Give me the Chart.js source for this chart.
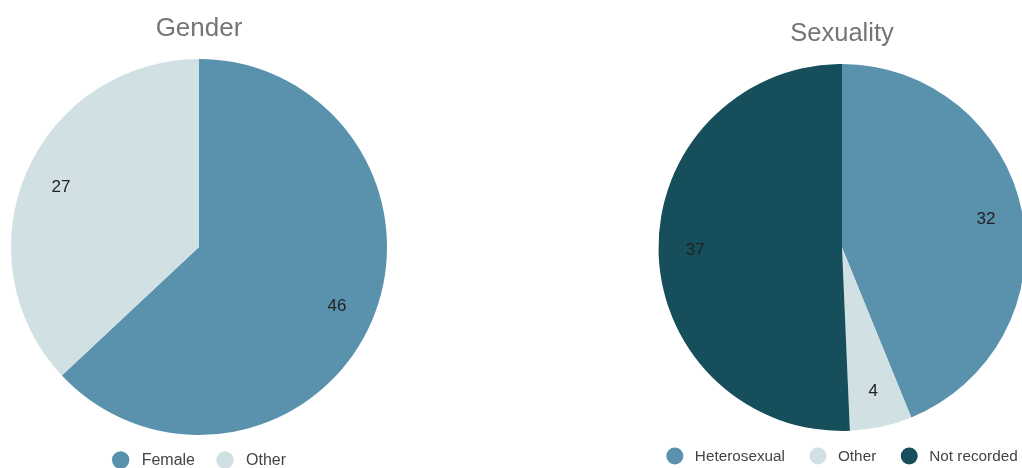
<!DOCTYPE html>
<html>
<head>
<meta charset="utf-8">
<script src="https://cdn.jsdelivr.net/npm/chart.js@4/dist/chart.umd.min.js"></script>
<style>
html,body{margin:0;padding:0;background:#fff;overflow:hidden;width:1022px;height:468px;}
canvas{position:absolute;}
#c1{left:-1px;top:0;}
#c2{left:642px;top:0;}
</style>
</head>
<body>
<canvas id="c1" width="400" height="468"></canvas>
<canvas id="c2" width="400" height="468"></canvas>
<script>
const genderTitle = 'Gender';
const genderLabels = ['Female', 'Other'];
const genderValues = [46, 27];
const genderColors = ['#5a92ae', '#d1e0e3'];

const sexualityTitle = 'Sexuality';
const sexualityLabels = ['Heterosexual', 'Other', 'Not recorded'];
const sexualityValues = [32, 4, 37];
const sexualityColors = ['#5a92ae', '#d1e0e3', '#174e5b'];

const FONT = "'Liberation Sans', Arial, sans-serif";

const sliceLabels = {
  id: 'sliceLabels',
  afterDatasetsDraw(chart) {
    const ctx = chart.ctx;
    const meta = chart.getDatasetMeta(0);
    const data = chart.data.datasets[0].data;
    ctx.save();
    ctx.font = "17px " + FONT;
    ctx.fillStyle = '#222';
    ctx.textAlign = 'center';
    ctx.textBaseline = 'middle';
    meta.data.forEach((arc, i) => {
      const p = arc.getProps(['x', 'y', 'startAngle', 'endAngle', 'outerRadius'], true);
      const mid = (p.startAngle + p.endAngle) / 2;
      const r = p.outerRadius * 0.8;
      ctx.fillText(String(data[i]), p.x + Math.cos(mid) * r, p.y + Math.sin(mid) * r);
    });
    ctx.restore();
  }
};

// legend drawn from the chart's own labels and dataset colours
const circleLegend = {
  id: 'circleLegend',
  afterDraw(chart, args, opts) {
    const ctx = chart.ctx;
    const labels = chart.data.labels;
    const colors = chart.data.datasets[0].backgroundColor;
    ctx.save();
    ctx.font = opts.fontSize + "px " + FONT;
    const widths = labels.map(t => ctx.measureText(t).width);
    let total = opts.radius;
    widths.forEach((w, i) => { total += opts.textGap + w + (i < widths.length - 1 ? opts.itemGap : 0); });
    const cx = (chart.chartArea.left + chart.chartArea.right) / 2;
    let x = cx - total / 2 + opts.radius;
    ctx.textBaseline = 'middle';
    ctx.textAlign = 'left';
    labels.forEach((t, i) => {
      ctx.fillStyle = colors[i];
      ctx.beginPath();
      ctx.arc(x, opts.y, opts.radius, 0, Math.PI * 2);
      ctx.fill();
      ctx.fillStyle = '#444';
      ctx.fillText(t, x + opts.textGap, opts.y + 0.5);
      x += opts.textGap + widths[i] + opts.itemGap;
    });
    ctx.restore();
  }
};

function makePie(id, title, labels, values, colors, cfg) {
  return new Chart(document.getElementById(id), {
    type: 'pie',
    data: {
      labels: labels,
      datasets: [{ data: values, backgroundColor: colors, borderWidth: 0, hoverOffset: 0 }]
    },
    options: {
      responsive: false,
      animation: false,
      events: [],
      layout: { padding: { bottom: cfg.padBottomArea } },
      plugins: {
        title: {
          display: true,
          text: title,
          color: '#757575',
          font: { family: FONT, size: cfg.titleSize, weight: 'normal' },
          padding: { top: cfg.padTop, bottom: cfg.padBottom }
        },
        legend: { display: false },
        tooltip: { enabled: false },
        circleLegend: cfg.legend
      }
    },
    plugins: [sliceLabels, circleLegend]
  });
}

makePie('c1', genderTitle, genderLabels, genderValues, genderColors, {
  titleSize: 26, padTop: 13.4, padBottom: 14.4, padBottomArea: 33,
  legend: { fontSize: 16, radius: 8.7, textGap: 21, itemGap: 30, y: 460 }
});
makePie('c2', sexualityTitle, sexualityLabels, sexualityValues, sexualityColors, {
  titleSize: 25.5, padTop: 18.4, padBottom: 15, padBottomArea: 37,
  legend: { fontSize: 15.3, radius: 8.5, textGap: 20, itemGap: 33, y: 456 }
});
</script>
</body>
</html>
